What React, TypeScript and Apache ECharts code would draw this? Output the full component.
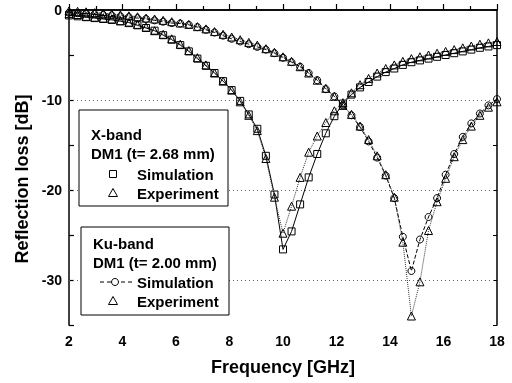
import React, { useEffect, useRef } from "react";
import * as echarts from "echarts";

const freq = [2.0, 2.32, 2.64, 2.96, 3.28, 3.6, 3.92, 4.24, 4.56, 4.88, 5.2, 5.52, 5.84, 6.16, 6.48, 6.8, 7.12, 7.44, 7.76, 8.08, 8.4, 8.72, 9.04, 9.36, 9.68, 10.0, 10.32, 10.64, 10.96, 11.28, 11.6, 11.92, 12.24, 12.56, 12.88, 13.2, 13.52, 13.84, 14.16, 14.48, 14.8, 15.12, 15.44, 15.76, 16.08, 16.4, 16.72, 17.04, 17.36, 17.68, 18.0];

const xBandSim = [-0.6, -0.7, -0.8, -0.9, -1.0, -1.1, -1.25, -1.4, -1.7, -2.0, -2.3, -2.8, -3.3, -3.9, -4.6, -5.4, -6.2, -7.0, -7.9, -8.9, -10.1, -11.6, -13.2, -16.2, -20.5, -26.6, -24.6, -21.6, -18.6, -16.0, -13.7, -11.8, -10.4, -9.4, -8.6, -8.0, -7.4, -6.9, -6.5, -6.1, -5.8, -5.6, -5.4, -5.2, -5.0, -4.8, -4.6, -4.4, -4.2, -4.05, -3.9];

const xBandExp = [-0.4, -0.5, -0.7, -0.8, -0.9, -1.0, -1.2, -1.4, -1.6, -1.9, -2.3, -2.7, -3.2, -3.8, -4.5, -5.3, -6.1, -7.0, -7.9, -8.9, -10.2, -11.7, -13.4, -16.5, -20.8, -24.8, -21.8, -18.6, -15.8, -14.0, -12.5, -11.2, -10.3, -9.2, -8.3, -7.6, -7.0, -6.5, -6.1, -5.7, -5.4, -5.2, -5.0, -4.8, -4.6, -4.4, -4.2, -4.0, -3.8, -3.65, -3.5];

const kuBandSim = [-0.3, -0.35, -0.4, -0.45, -0.55, -0.6, -0.7, -0.8, -0.9, -1.0, -1.15, -1.3, -1.45, -1.5, -1.65, -1.9, -2.2, -2.5, -2.85, -3.2, -3.5, -3.8, -4.1, -4.4, -4.8, -5.3, -5.8, -6.3, -7.0, -7.8, -8.8, -9.6, -10.6, -11.7, -13.0, -14.6, -16.4, -18.4, -20.9, -25.2, -29.0, -25.5, -23.0, -20.9, -18.3, -16.0, -14.1, -12.6, -11.5, -10.6, -9.9];

const kuBandExp = [-0.1, -0.15, -0.2, -0.3, -0.35, -0.45, -0.55, -0.65, -0.75, -0.9, -1.0, -1.15, -1.3, -1.45, -1.6, -1.85, -2.1, -2.4, -2.7, -3.0, -3.3, -3.6, -3.9, -4.3, -4.7, -5.2, -5.7, -6.3, -7.0, -7.8, -8.7, -9.6, -10.6, -11.6, -12.9, -14.4, -16.2, -18.3, -20.8, -25.8, -34.0, -30.2, -24.5, -21.3, -18.7, -16.3, -14.4, -12.9, -11.7, -10.8, -10.2];

const gridLevels = [-10, -20, -30];
const xTitle = "Frequency [GHz]";
const yTitle = "Reflection loss [dB]";
const legend1 = ["X-band", "DM1 (t= 2.68 mm)", "Simulation", "Experiment"];
const legend2 = ["Ku-band", "DM1 (t= 2.00 mm)", "Simulation", "Experiment"];

const FONT = "'Liberation Sans', Arial, sans-serif";

function pairs(ys: number[]) {
  return freq.map((f, i) => [f, ys[i]]);
}

export default function App() {
  const ref = useRef<HTMLDivElement>(null);
  useEffect(() => {
    if (!ref.current) return;
    const chart = echarts.init(ref.current, undefined, { renderer: "svg" });
    const hollow = { color: "rgba(255,255,255,0)", borderColor: "#000", borderWidth: 1 };
    const txt = (x: number, y: number, s: string) => ({
      type: "text",
      x,
      y,
      z: 101,
      style: { text: s, font: `bold 15px ${FONT}`, fill: "#000", textVerticalAlign: "middle" },
    });
    const tri = (cx: number, cy: number) => ({
      type: "polygon",
      z: 101,
      shape: { points: [[cx, cy - 4.5], [cx - 4.5, cy + 3.5], [cx + 4.5, cy + 3.5]] },
      style: { fill: "none", stroke: "#000", lineWidth: 1 },
    });
    const option: any = {
      animation: false,
      grid: { left: 69, right: 15, top: 10, bottom: 58 },
      xAxis: [
        {
          type: "value",
          min: 2,
          max: 18,
          interval: 2,
          axisLine: { show: true, lineStyle: { color: "#000", width: 1.5 } },
          axisTick: { show: true, inside: true, length: 6, lineStyle: { color: "#000", width: 1.2 } },
          minorTick: { show: true, splitNumber: 2, length: 4, lineStyle: { color: "#000", width: 1.2 } },
          splitLine: { show: false },
          axisLabel: { color: "#000", fontFamily: FONT, fontWeight: "bold", fontSize: 14, margin: 9 },
        },
        {
          type: "value",
          position: "top",
          min: 2,
          max: 18,
          interval: 2,
          axisLine: { show: true, lineStyle: { color: "#000", width: 1.5 } },
          axisTick: { show: false },
          splitLine: { show: false },
          axisLabel: { show: false },
        },
      ],
      yAxis: [
        {
          type: "value",
          min: -35,
          max: 0,
          interval: 5,
          axisLine: { show: true, lineStyle: { color: "#000", width: 1.5 } },
          axisTick: { show: true, inside: true, length: 5, lineStyle: { color: "#000", width: 1.2 } },
          splitLine: { show: false },
          axisLabel: {
            color: "#000",
            fontFamily: FONT,
            fontWeight: "bold",
            fontSize: 14,
            margin: 7,
            formatter: (v: number) => (v % 10 === 0 ? String(v) : ""),
          },
        },
        {
          type: "value",
          position: "right",
          min: -35,
          max: 0,
          interval: 5,
          axisLine: { show: true, lineStyle: { color: "#000", width: 1.5 } },
          axisTick: { show: true, inside: true, length: 4, lineStyle: { color: "#000", width: 1 } },
          splitLine: { show: false },
          axisLabel: { show: false },
        },
      ],
      series: [
        {
          type: "line",
          name: "X sim",
          data: pairs(xBandSim),
          symbol: "rect",
          symbolSize: 7,
          itemStyle: hollow,
          lineStyle: { color: "#000", width: 1, type: "solid" },
          markLine: {
            silent: true,
            symbol: ["none", "none"],
            label: { show: false },
            lineStyle: { color: "#666", width: 1, type: [1, 3] },
            data: gridLevels.map((v) => ({ yAxis: v })),
          },
        },
        {
          type: "line",
          name: "X exp",
          data: pairs(xBandExp),
          symbol: "triangle",
          symbolSize: 8,
          itemStyle: hollow,
          lineStyle: { color: "#333", width: 1, type: "dotted" },
        },
        {
          type: "line",
          name: "Ku sim",
          data: pairs(kuBandSim),
          symbol: "circle",
          symbolSize: 7,
          itemStyle: hollow,
          lineStyle: { color: "#000", width: 1, type: "dashed" },
        },
        {
          type: "line",
          name: "Ku exp",
          data: pairs(kuBandExp),
          symbol: "triangle",
          symbolSize: 8,
          itemStyle: hollow,
          lineStyle: { color: "#333", width: 1, type: "dotted" },
        },
      ],
      graphic: [
        {
          type: "text",
          x: 22,
          y: 179,
          rotation: Math.PI / 2,
          z: 101,
          style: { text: yTitle, font: `bold 18px ${FONT}`, fill: "#000", textAlign: "center", textVerticalAlign: "middle" },
        },
        {
          type: "text",
          x: 283,
          y: 367,
          z: 101,
          style: { text: xTitle, font: `bold 18px ${FONT}`, fill: "#000", textAlign: "center", textVerticalAlign: "middle" },
        },
        {
          type: "rect",
          z: 100,
          shape: { x: 79, y: 110, width: 149, height: 96 },
          style: { fill: "#fff", stroke: "#000", lineWidth: 1 },
        },
        txt(91, 134, legend1[0]),
        txt(91, 153, legend1[1]),
        txt(137, 174, legend1[2]),
        txt(137, 193, legend1[3]),
        {
          type: "rect",
          z: 101,
          shape: { x: 109.5, y: 170.5, width: 7, height: 7 },
          style: { fill: "none", stroke: "#000", lineWidth: 1 },
        },
        tri(113, 193),
        {
          type: "rect",
          z: 100,
          shape: { x: 81, y: 227, width: 148, height: 88 },
          style: { fill: "#fff", stroke: "#000", lineWidth: 1 },
        },
        txt(93, 243, legend2[0]),
        txt(93, 262, legend2[1]),
        txt(137, 282, legend2[2]),
        txt(137, 301, legend2[3]),
        {
          type: "line",
          z: 101,
          shape: { x1: 100, y1: 282, x2: 133, y2: 282 },
          style: { stroke: "#000", lineWidth: 1, lineDash: [4, 3] },
        },
        {
          type: "circle",
          z: 102,
          shape: { cx: 115, cy: 282, r: 3.5 },
          style: { fill: "#fff", stroke: "#000", lineWidth: 1 },
        },
        tri(113, 301),
      ],
    };
    chart.setOption(option);
    return () => chart.dispose();
  }, []);
  return <div ref={ref} style={{ position: "fixed", left: 0, top: 0, width: 512, height: 383 }} />;
}
